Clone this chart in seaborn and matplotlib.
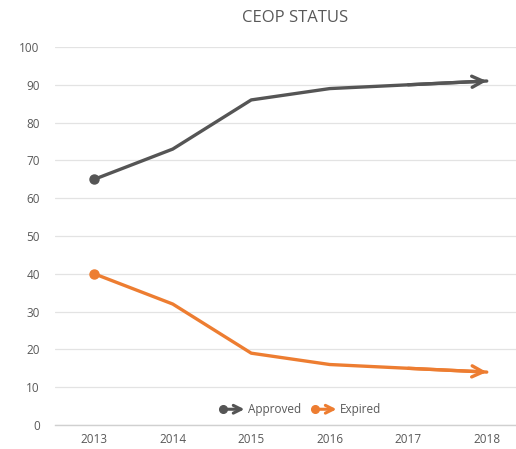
import pandas as pd
import matplotlib
matplotlib.use('Agg')
import matplotlib.pyplot as plt
import seaborn as sns
from matplotlib.lines import Line2D
from matplotlib.patches import FancyArrowPatch
from matplotlib.legend_handler import HandlerBase

# chart values
years = [2013, 2014, 2015, 2016, 2017, 2018]
approved = [65, 73, 86, 89, 90, 91]
expired = [40, 32, 19, 16, 15, 14]
series_names = ['Approved', 'Expired']
colors = {'Approved': '#555555', 'Expired': '#ED7D31'}

df = pd.DataFrame({
    'Year': years * 2,
    'Value': approved + expired,
    'Series': ['Approved'] * len(years) + ['Expired'] * len(years),
})

sns.set_style('white')
plt.rcParams['font.family'] = ['Open Sans', 'DejaVu Sans']

fig = plt.figure(figsize=(5.16, 4.49), dpi=100)
ax = fig.add_axes([55 / 516, 1 - 425 / 449, 471 / 516, 378 / 449])

sns.lineplot(data=df, x='Year', y='Value', hue='Series', palette=colors,
             linewidth=2.4, legend=False, ax=ax, zorder=3)

# start dot and end arrow for each series
for name, vals in zip(series_names, [approved, expired]):
    c = colors[name]
    ax.plot(years[0], vals[0], 'o', color=c, markersize=6.5, zorder=4)
    ax.annotate('', xy=(years[-1], vals[-1]), xytext=(years[-2], vals[-2]),
                arrowprops=dict(arrowstyle='->', color=c, lw=2.4,
                                mutation_scale=20, shrinkA=0, shrinkB=0),
                zorder=4)

ax.set_xlim(years[0] - 0.5, years[-1] + 0.5)
ax.set_ylim(0, 100)
ax.set_yticks(range(0, 101, 10))
ax.set_xticks(years)
ax.set_xticklabels([str(y) for y in years])
ax.set_xlabel('')
ax.set_ylabel('')
ax.yaxis.grid(True, color='#E3E3E3', linewidth=0.9)
ax.xaxis.grid(False)
for s in ['top', 'right', 'left']:
    ax.spines[s].set_visible(False)
ax.spines['bottom'].set_color('#D0D0D0')
ax.spines['bottom'].set_linewidth(1.0)
ax.tick_params(axis='both', length=0, labelsize=8.5, labelcolor='#595959')
ax.tick_params(axis='y', pad=11)
ax.tick_params(axis='x', pad=6)


class DotArrowHandler(HandlerBase):
    def create_artists(self, legend, orig_handle, xdescent, ydescent,
                       width, height, fontsize, trans):
        c = orig_handle.get_color()
        y = height / 2 - ydescent
        x0 = -xdescent + 3
        x1 = -xdescent + width
        dot = Line2D([x0], [y], marker='o', markersize=5.5, color=c,
                     linestyle='none', transform=trans)
        arr = FancyArrowPatch((x0, y), (x1, y), arrowstyle='->', color=c,
                              lw=2.2, mutation_scale=14, shrinkA=0, shrinkB=0,
                              transform=trans)
        return [arr, dot]


handles = [Line2D([], [], color=colors[n]) for n in series_names]
leg = ax.legend(handles, series_names, handler_map={Line2D: DotArrowHandler()},
                loc='center', bbox_to_anchor=(0.52, 0.04), ncol=2,
                frameon=False, fontsize=8.5, handlelength=2.2, handletextpad=0.3,
                columnspacing=0.8)
for t in leg.get_texts():
    t.set_color('#595959')

fig.text(295 / 516, 1 - 18 / 449, 'CEOP STATUS', ha='center', va='center',
         fontsize=12, color='#595959')

fig.savefig('out.png', dpi=100)
